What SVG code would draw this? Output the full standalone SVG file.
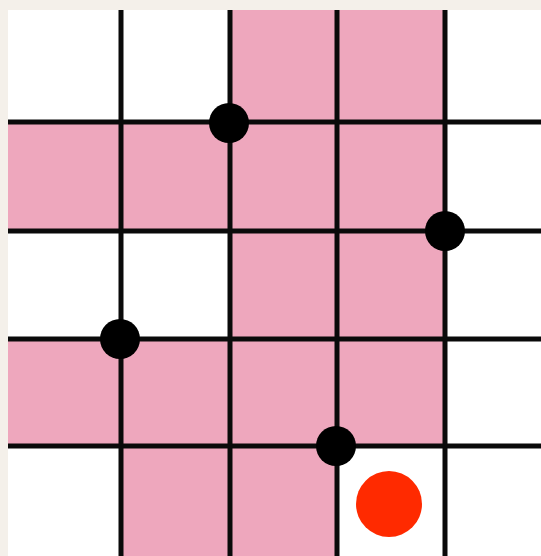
<svg xmlns="http://www.w3.org/2000/svg" width="541" height="556" viewBox="0 0 541 556">
  <style>
    .pink { fill: #eea7bd; }
    .grid line { stroke: #0a0a0a; stroke-width: 5; }
    .dot { fill: #000; }
  </style>
  <rect x="0" y="0" width="541" height="556" fill="#f4f0ea"/>
  <rect x="8" y="10" width="533" height="546" fill="#ffffff"/>
  <g id="cells">
    <rect class="pink" x="230" y="10" width="215" height="112"/>
    <rect class="pink" x="8" y="122" width="437" height="109"/>
    <rect class="pink" x="230" y="231" width="215" height="108"/>
    <rect class="pink" x="8" y="339" width="437" height="107"/>
    <rect class="pink" x="121" y="446" width="216" height="110"/>
  </g>
  <g id="connectors" class="grid">
    <line x1="121" y1="10" x2="121" y2="556"/>
    <line x1="230" y1="10" x2="230" y2="556"/>
    <line x1="337" y1="10" x2="337" y2="556"/>
    <line x1="445" y1="10" x2="445" y2="556"/>
    <line x1="8" y1="122" x2="541" y2="122"/>
    <line x1="8" y1="231" x2="541" y2="231"/>
    <line x1="8" y1="339" x2="541" y2="339"/>
    <line x1="8" y1="446" x2="541" y2="446"/>
  </g>
  <g id="dot1"><circle class="dot" cx="229" cy="123" r="20"/></g>
  <g id="dot2"><circle class="dot" cx="445" cy="231" r="20"/></g>
  <g id="dot3"><circle class="dot" cx="120" cy="339" r="20"/></g>
  <g id="dot4"><circle class="dot" cx="336" cy="446" r="20"/></g>
  <g id="target"><circle cx="389" cy="504" r="33" fill="#ff2a00"/></g>
</svg>
